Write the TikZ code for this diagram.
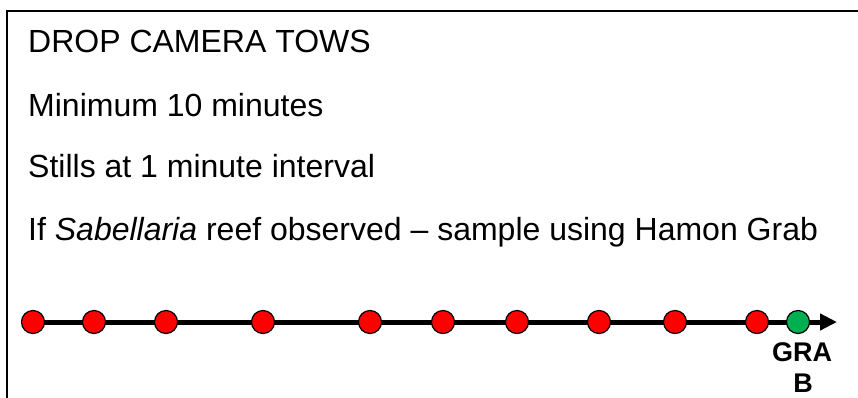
\documentclass[tikz,border=0pt]{standalone}
\usepackage{fontspec}
\setmainfont{Liberation Sans}
\usetikzlibrary{arrows.meta,backgrounds}
\definecolor{dotgreen}{RGB}{0,176,80}
\begin{document}
\begin{tikzpicture}[x=1pt,y=-1pt,
  txt/.style={anchor=base west,inner sep=0pt,font=\fontsize{32}{38}\selectfont},
  dot/.style={circle,draw=black,line width=1.2pt,minimum size=23pt,inner sep=0pt},
  reddot/.style={dot,fill=red},
  greendot/.style={dot,fill=dotgreen},
  lbl/.style={anchor=base,inner sep=0pt,font=\bfseries\fontsize{27}{32}\selectfont},
  timeline/.style={line width=5pt,-{Triangle[length=17pt,width=16pt]}}]
\useasboundingbox (0,0) rectangle (858,397);
\clip (0,0) rectangle (858,397);
\draw[line width=2.5pt] (7,11) rectangle (900,450);
\node[txt] (t1) at (28,52) {DROP CAMERA TOWS};
\node[txt] (t2) at (28,116) {Minimum 10 minutes};
\node[txt] (t3) at (28,177) {Stills at 1 minute interval};
\node[txt] (t4) at (28,240) {If \textit{Sabellaria} reef observed – sample using Hamon Grab};
\node[reddot] (c1) at (33,322) {};
\node[reddot] (c2) at (94,322) {};
\node[reddot] (c3) at (166,322) {};
\node[reddot] (c4) at (263,322) {};
\node[reddot] (c5) at (370,322) {};
\node[reddot] (c6) at (443,322) {};
\node[reddot] (c7) at (517,322) {};
\node[reddot] (c8) at (599,322) {};
\node[reddot] (c9) at (675,322) {};
\node[reddot] (c10) at (757,322) {};
\node[greendot] (g) at (798,322) {};
\coordinate (tip) at (837,322);
\begin{scope}[on background layer]
\draw[timeline] (c1.center) -- (tip);
\end{scope}
\node[lbl] (grab1) at (802,361) {GRA};
\node[lbl] (grab2) at (803,392) {B};
\end{tikzpicture}
\end{document}
